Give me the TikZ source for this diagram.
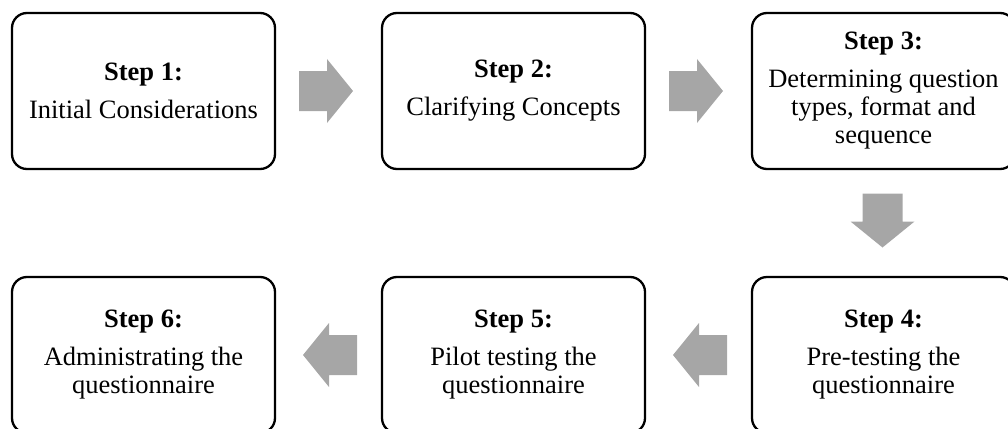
\documentclass[tikz,border=0pt]{standalone}
\usepackage{fontspec}
\setmainfont{Liberation Serif}
\definecolor{arrowgray}{HTML}{A6A6A6}
\begin{document}
\begin{tikzpicture}[x=1pt,y=-1pt,
  stepbox/.style={draw=black, line width=2.3pt, rounded corners=15pt,
    minimum width=263pt, minimum height=156pt, inner sep=0pt,
    align=center, font=\fontsize{26.5}{28}\selectfont},
  blockarrow/.pic={
    \fill[arrowgray] (-27,-20) -- (1,-20) -- (1,-32) -- (27,0)
      -- (1,32) -- (1,20) -- (-27,20) -- cycle;}]
\useasboundingbox (0,0) rectangle (1008,428);
\clip (0,0) rectangle (1008,428);

% the six steps, top row left to right, bottom row right to left
\node[stepbox] (s1) at (143.5,91) {\textbf{Step 1:}\\[10pt]Initial Considerations};
\node[stepbox] (s2) at (513.5,91) {\textbf{Step 2:}\\[10pt]Clarifying Concepts};
\node[stepbox] (s3) at (883.5,91) {\textbf{Step 3:}\\[10pt]Determining question\\types, format and\\sequence};
\node[stepbox] (s4) at (883.5,355) {\textbf{Step 4:}\\[10pt]Pre-testing the\\questionnaire};
\node[stepbox] (s5) at (513.5,355) {\textbf{Step 5:}\\[10pt]Pilot testing the\\questionnaire};
\node[stepbox] (s6) at (143.5,355) {\textbf{Step 6:}\\[10pt]Administrating the\\questionnaire};

% grey block arrows between the steps
\pic (a12) at (326,91) {blockarrow};
\pic (a23) at (696,91) {blockarrow};
\pic[rotate=-90] (a34) at (882.5,220.5) {blockarrow};
\pic[rotate=180] (a45) at (700,355) {blockarrow};
\pic[rotate=180] (a56) at (330,355) {blockarrow};
\end{tikzpicture}
\end{document}
